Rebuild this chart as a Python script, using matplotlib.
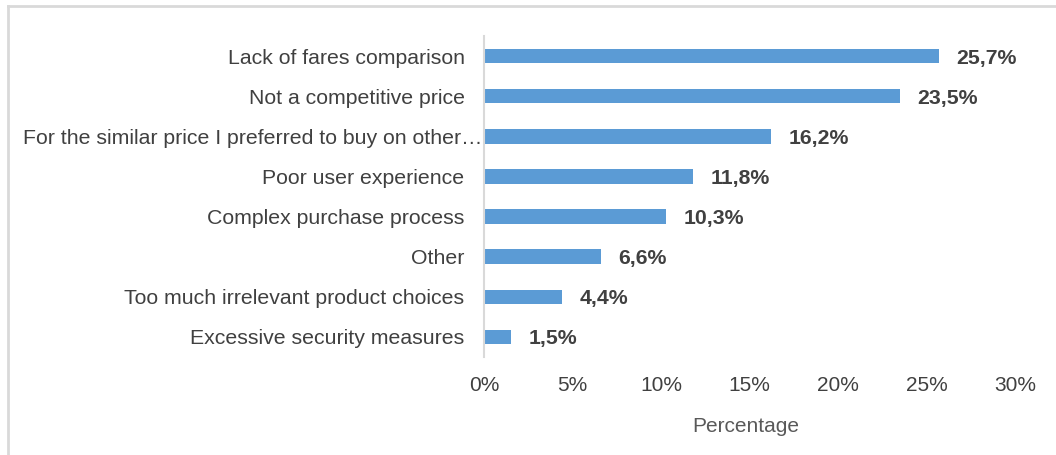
import matplotlib.pyplot as plt
from matplotlib.lines import Line2D
from matplotlib.transforms import ScaledTranslation

# survey answers, bottom to top
reasons = ["Excessive security measures",
           "Too much irrelevant product choices",
           "Other",
           "Complex purchase process",
           "Poor user experience",
           "For the similar price I preferred to buy on other\u2026",
           "Not a competitive price",
           "Lack of fares comparison"]
shares = [1.5, 4.4, 6.6, 10.3, 11.8, 16.2, 23.5, 25.7]
ticks = [0, 5, 10, 15, 20, 25, 30]

plt.rcParams['font.family'] = ['Liberation Sans', 'DejaVu Sans']

fig = plt.figure(figsize=(10.56, 4.55), dpi=100)
ax = fig.add_axes([484 / 1056, 1 - 357 / 455, (1015 - 484) / 1056, (357 - 36) / 455])

ypos = range(len(reasons))
ax.barh(ypos, shares, height=0.36, color="#5B9BD5")

# value labels next to each bar
for y, v in zip(ypos, shares):
    ax.text(v + 1.0, y, f"{v:.1f}%".replace(".", ","), va="center_baseline", ha="left",
            fontsize=15.3, fontweight="bold", color="#404040")

ax.set_xlim(0, 30)
ax.set_ylim(-0.5, len(reasons) - 0.5)
ax.set_xticks(ticks)
ax.set_xticklabels([f"{t}%" for t in ticks])
ax.set_yticks(list(ypos))
ax.set_yticklabels(reasons)
ax.tick_params(axis="x", length=0, pad=14, labelsize=15, labelcolor="#404040")
ax.tick_params(axis="y", length=0, pad=14, labelsize=15.3, labelcolor="#404040")

# the truncated label runs right up to the axis line
for lbl in ax.get_yticklabels():
    if lbl.get_text().endswith("\u2026"):
        lbl.set_transform(lbl.get_transform() + ScaledTranslation(0.18, 0, fig.dpi_scale_trans))

for side in ["top", "right", "bottom"]:
    ax.spines[side].set_visible(False)
ax.spines["left"].set_color("#D9D9D9")
ax.spines["left"].set_linewidth(1.5)

fig.text(746 / 1056, 1 - 426 / 455, "Percentage", ha="center", va="center",
         fontsize=15, color="#595959")

# chart frame: only top and left edges are visible
fig.add_artist(Line2D([8 / 1056, 1], [1 - 6 / 455, 1 - 6 / 455], color="#D9D9D9", lw=2))
fig.add_artist(Line2D([8 / 1056, 8 / 1056], [0, 1 - 6 / 455], color="#D9D9D9", lw=2))

fig.savefig("out.png", dpi=100)
